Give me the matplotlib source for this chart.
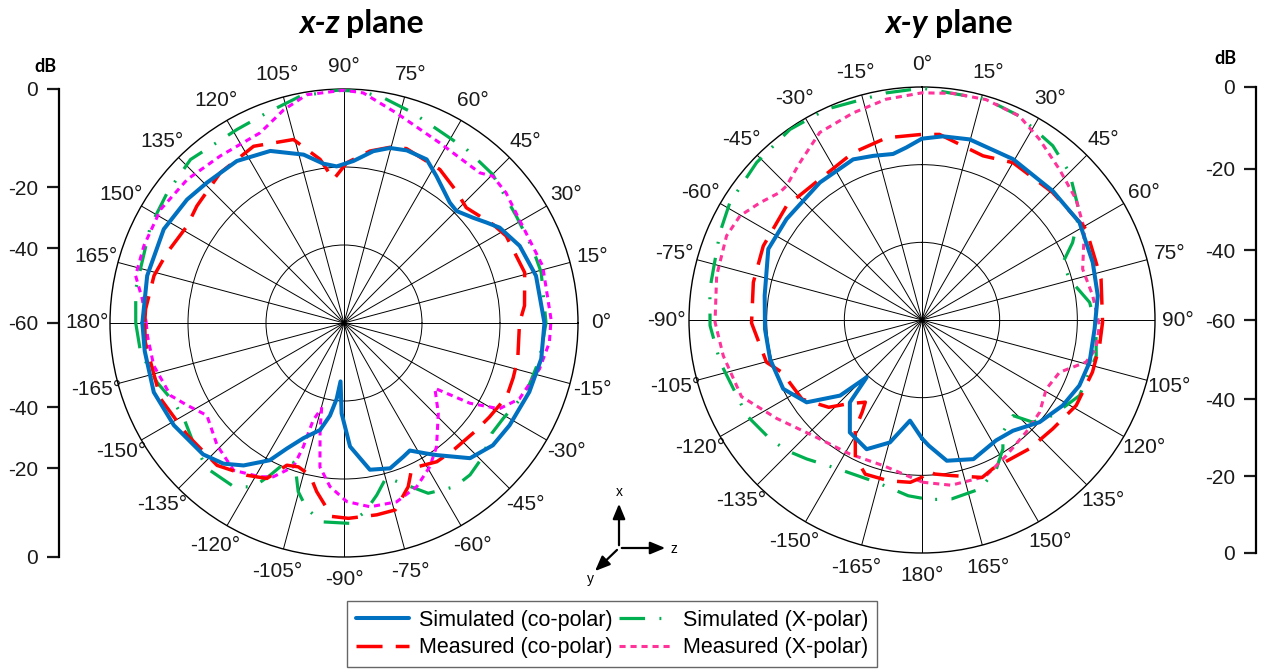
import numpy as np
import matplotlib
matplotlib.use("Agg")
import matplotlib.pyplot as plt

# ---- x-z plane (deg, ccw from 0 at right) ----
xz_sim_co_ang = [-180, -172, -160, -149, -137, -130.6, -125.2, -118.4, -114.5, -109.4, -102.6, -98.6, -95.5, -93.4,
                 -91.5, -87.2, -80, -72.4, -66, -62.7, -57.7, -54.9, -47, -39.4, -31.7, -20.4, -10.3, 0, 13.8, 23.7,
                 31.5, 35.2, 39.2, 44.9, 48.7, 57.8, 63.2, 70, 75.3, 80.3, 86.7, 92.7, 97.4, 103.5, 113.2, 123.5,
                 134.3, 141.8, 152.5, 166.5, 180]
xz_sim_co_db = [-8.3, -8.4, -8.1, -9.1, -10.6, -12.5, -15.3, -20.0, -24.6, -28.7, -31.9, -36.0, -40.5, -45.0,
                -36.8, -28.3, -21.8, -20.9, -22.5, -23.2, -20.4, -18.6, -12.6, -10.6, -10.1, -9.3, -8.6, -8.6, -9.3, -10.8,
                -13.2, -15.3, -17.3, -19.3, -18.9, -15.5, -13.0, -12.9, -13.6, -15.3, -18.4, -19.8, -18.8, -15.6, -12.0, -10.2,
                -9.7, -8.8, -7.9, -8.1, -8.3]

xz_meas_co_ang = [-180, -174.5, -157.6, -144.4, -131.7, -122.5, -116.4, -111.9, -107.6, -102.6, -99.2, -93.6, -88.7,
                  -80.3, -74.7, -68.6, -65, -56.2, -49.3, -39.7, -32.9, -24.4, -18, -11.7, 0, 5.5, 15.6, 28.2, 33.5,
                  43.3, 50, 58, 70.3, 75, 81.4, 89, 94.2, 98.3, 105.4, 117.1, 129.5, 141.5, 148.3, 158.3, 166, 176, 180]
xz_meas_co_db = [-8.9, -8.8, -9.1, -10.6, -11.1, -13.7, -15.5, -20.7, -21.3, -20.0, -16.2, -10.3, -9.9,
                 -10.1, -10.3, -14.9, -18.9, -17.2, -17.0, -16.4, -15.6, -14.2, -14.4, -14.5, -15.0, -13.5, -11.9, -12.8, -14.2,
                 -16.9, -15.5, -13.6, -12.5, -13.3, -15.4, -18.9, -23.1, -17.6, -11.2, -9.1, -10.1, -11.8, -12.7, -11.2, -9.8, -9.0, -8.9]

xz_sim_x_ang = [-180, -171.8, -162.4, -155, -149.1, -141, -133.2, -123.9, -118.9, -115.9, -112.1, -109.3, -105.2,
                -101.4, -96.4, -88.3, -83.6, -79.2, -74.5, -72.6, -63.7, -55.9, -50.3, -44.5, -36.8, -30.9, -20.8,
                -10.4, 0, 14.4, 21.3, 31.9, 45, 54.8, 71.8, 80, 86, 91.8, 101, 110.2, 118.9, 133.2, 143.6, 153.4, 170.8, 180]
xz_sim_x_db = [-6.6, -7.3, -9.7, -11.9, -12.2, -10.5, -8.8, -9.4, -12.0, -16.6, -22.1, -21.9, -15.2,
               -11.5, -8.7, -8.6, -11.3, -15.1, -19.1, -17.8, -11.3, -9.3, -9.4, -10.5, -12.7, -12.4, -10.0,
               -9.0, -8.2, -7.8, -8.0, -8.0, -6.1, -5.5, -3.3, -1.4, -0.4, -0.3, -0.8, -2.6, -3.3, -2.5, -3.7, -4.5, -5.9, -6.6]

xz_meas_x_ang = [-180, -176.3, -167.4, -157.3, -152.3, -146, -136, -126.8, -118.6, -114.7, -109.4, -108.2, -107.6,
                 -104.7, -102.6, -99.5, -94.9, -89.1, -81.9, -73.6, -66, -59.1, -53.2, -43.8, -35.7, -32.5, -28.9,
                 -23.4, -13.2, -5.4, 1, 16, 30.6, 38.8, 44.6, 47.9, 62, 76, 85.2, 90, 99.3, 105.8, 113.8, 126.5, 137.5,
                 148.2, 158.9, 167.2, 173.2, 180]
xz_meas_x_db = [-9.3, -9.5, -10.0, -11.8, -14.6, -17.6, -14.8, -12.8, -15.1, -16.6, -20.9, -26.6, -33.9,
                -37.4, -31.9, -22.6, -17.9, -14.2, -12.4, -12.2, -14.1, -17.1, -20.4, -26.5, -31.3, -21.7, -14.5,
                -11.0, -8.5, -7.1, -6.9, -7.0, -7.8, -6.7, -6.4, -8.1, -7.7, -4.5, -0.8, -0.3, -0.7, -3.2, -6.7, -6.7, -5.5,
                -4.7, -5.0, -5.2, -7.9, -9.3]

# ---- x-y plane (deg, cw from 0 at top) ----
xy_sim_co_ang = [-180, -173.2, -165.3, -156.8, -147.3, -138.8, -136, -132.7, -125.5, -116.4, -104.4, -93.3, -81.2,
                 -65.2, -53.3, -36.6, -23.2, -16.6, -9.9, -5.2, 0, 6.5, 14.8, 29.5, 45.4, 58.2, 71.4, 82.1, 93, 104.2,
                 112.6, 121.3, 131, 140.6, 148.4, 159.7, 170, 176.9, 180]
xy_sim_co_db = [-29.5, -33.9, -27.4, -23.8, -25.6, -31.8, -39.5, -31.3, -23.5, -20.1, -19.6, -19.5, -19.0,
                -16.4, -16.5, -15.9, -15.0, -15.9, -16.6, -15.4, -13.3, -12.4, -11.9, -12.4, -12.7, -12.3, -13.6, -14.3, -15.5, -15.5,
                -16.1, -17.6, -19.9, -23.1, -23.6, -21.8, -23.2, -27.6, -29.5]

xy_meas_co_ang = [-180, -175.9, -168.3, -159.8, -154.1, -148.5, -147, -145.4, -138.2, -133.1, -123.4, -110.5, -105.2,
                  -91, -77.4, -65, -50, -36, -22.4, -11, 0, 5.4, 20.4, 30, 45.7, 61, 77.1, 90.7, 98.2, 107, 119, 129.8,
                  140, 154.5, 159.1, 169.1, 175.3, 178.1, 180]
xy_meas_co_db = [-19.5, -18.1, -17.7, -17.7, -20.7, -27.1, -31.7, -34.3, -31.0, -27.1, -23.0, -21.5, -18.5,
                 -16.1, -15.5, -14.9, -14.4, -15.2, -13.4, -12.2, -12.2, -12.0, -14.9, -13.2, -13.0, -11.7, -12.7, -13.5, -13.8, -14.1, -14.6, -16.2,
                 -16.8, -17.6, -16.6, -19.2, -20.2, -21.2, -19.5]

xy_sim_x_ang = [-180, -175.5, -164.4, -150.7, -140.3, -134, -128, -118.6, -112.2, -101.8, -91.5, -81.7, -66.6, -58.5,
                -46.4, -34.7, -24.4, -8.9, 0, 2.7, 16.2, 25.5, 36.9, 45, 55.7, 62.8, 67.8, 74.5, 84, 91.9, 101.6, 115.6,
                126.1, 132.7, 136.4, 144.2, 147.9, 153.5, 161.1, 170.6, 177.7, 180]
xy_sim_x_db = [-14.1, -14.6, -16.6, -16.0, -13.5, -11.6, -10.3, -8.6, -8.5, -6.9, -5.4, -4.8, -3.3, -2.0,
               -1.2, -0.3, -0.4, -0.8, -0.3, -0.7, -0.8, -1.8, -3.9, -6.3, -10.9, -16.4, -20.8, -20.6, -16.6, -15.2, -14.2, -15.0,
               -18.3, -21.2, -26.0, -24.4, -20.8, -17.1, -14.0, -13.3, -13.7, -14.1]

xy_meas_x_ang = [-180, -165.1, -151.7, -136.8, -124.1, -113, -100.2, -90.6, -77.8, -66.7, -60.2, -54.1, -48.1, -45.3,
                 -37.8, -28.6, -18.4, -9.2, 0, 7.8, 16.2, 25.5, 33, 42.4, 51.9, 60.8, 72.4, 81.9, 91.8, 99.4, 104.4,
                 110.8, 119, 128.1, 137.1, 148.1, 158, 170, 179.5, 180]
xy_meas_x_db = [-18.3, -21.2, -20.8, -19.1, -14.8, -9.5, -8.0, -6.7, -5.9, -5.2, -6.0, -8.5, -10.8, -10.9,
                -8.7, -5.0, -3.8, -2.4, -1.5, -1.1, -0.9, -1.8, -4.5, -7.5, -9.6, -12.1, -16.6, -15.6, -14.3, -14.6, -16.4,
                -22.1, -23.4, -21.5, -20.6, -18.9, -16.5, -16.8, -18.2, -18.3]

theta_ticks = np.arange(0, 360, 15)
theta_labels = [f"{a}°" if a <= 180 else f"{a - 360}°" for a in theta_ticks]
side_labels = ["0", "-20", "-40", "-60", "-40", "-20", "0"]
left_tick_pos = [1, 0.58, 0.32, 0, -0.36, -0.62, -1]
right_tick_pos = [1, 0.65, 0.30, 0, -0.34, -0.67, -1]
legend_labels = ["Simulated (co-polar)", "Measured (co-polar)", "Simulated (X-polar)", "Measured (X-polar)"]

BLUE, RED, GREEN, MAG, PINK = "#0070C0", "#FF0000", "#00B050", "#FF00FF", "#FF3399"
plt.rcParams["font.family"] = "Liberation Sans"
plt.rcParams["font.size"] = 15

W, H = 1268, 670
fig = plt.figure(figsize=(W / 100, H / 100), dpi=100)


def px_box(cx, cy, r):
    return [(cx - r) / W, (H - cy - r) / H, 2 * r / W, 2 * r / H]


def style_polar(ax):
    ax.set_ylim(-60, 0)
    ax.set_rgrids([-40, -20], labels=["", ""])
    ax.set_thetagrids(theta_ticks, theta_labels)
    ax.grid(True, color="black", lw=0.7)
    ax.spines["polar"].set_linewidth(1.0)
    ax.tick_params(axis="x", pad=6, labelsize=15, colors="#1a1a1a")
    ax.tick_params(axis="y", length=0)


def draw(ax, ang, db, **kw):
    return ax.plot(np.deg2rad(ang), db, **kw)[0]


sim_co = dict(color=BLUE, lw=2.9, solid_capstyle="round", zorder=6)
meas_co = dict(color=RED, lw=2.5, dashes=(7.5, 3.8), zorder=5)
sim_x = dict(color=GREEN, lw=2.3, dashes=(8, 4.5, 0.6, 4.5), zorder=4)

ax1 = fig.add_axes(px_box(344, 323, 234), projection="polar")
style_polar(ax1)
draw(ax1, xz_sim_x_ang, xz_sim_x_db, **sim_x)
draw(ax1, xz_meas_x_ang, xz_meas_x_db, color=MAG, lw=2.2, dashes=(2.0, 1.6), zorder=4)
draw(ax1, xz_meas_co_ang, xz_meas_co_db, **meas_co)
draw(ax1, xz_sim_co_ang, xz_sim_co_db, **sim_co)

ax2 = fig.add_axes(px_box(922, 320, 233), projection="polar")
ax2.set_theta_zero_location("N")
ax2.set_theta_direction(-1)
style_polar(ax2)
h3 = draw(ax2, xy_sim_x_ang, xy_sim_x_db, **sim_x)
h4 = draw(ax2, xy_meas_x_ang, xy_meas_x_db, color=PINK, lw=2.2, dashes=(2.0, 1.6), zorder=4)
h2 = draw(ax2, xy_meas_co_ang, xy_meas_co_db, **meas_co)
h1 = draw(ax2, xy_sim_co_ang, xy_sim_co_db, **sim_co)

# side dB scales
for x_line, cy, r, pos in [(59, 323, 234, left_tick_pos), (1256, 320, 233, right_tick_pos)]:
    sa = fig.add_axes([x_line / W, (H - cy - r) / H, 0.0005, 2 * r / H])
    sa.set_ylim(-1, 1)
    sa.set_yticks(pos, side_labels)
    sa.set_xticks([])
    for s in ["top", "right", "bottom"]:
        sa.spines[s].set_visible(False)
    sa.spines["left"].set_linewidth(1.6)
    sa.tick_params(axis="y", length=9, width=1.6, pad=6, labelsize=15, colors="#1a1a1a")
    sa.patch.set_visible(False)

# overlay in pixel coords for titles and the xyz sketch
ov = fig.add_axes([0, 0, 1, 1])
ov.set_xlim(0, W)
ov.set_ylim(H, 0)
ov.axis("off")
ov.patch.set_visible(False)

tkw = dict(fontsize=23, fontweight="bold", family="Lato", va="baseline")
ov.text(340, 33, "x-z", ha="right", fontstyle="italic", **tkw)
ov.text(346, 33, "plane", ha="left", **tkw)
ov.text(928, 33, "x-y", ha="right", fontstyle="italic", **tkw)
ov.text(935, 33, "plane", ha="left", **tkw)
ov.text(45, 67, "dB", ha="center", va="center", fontsize=13, fontweight="bold", family="Lato")
ov.text(1225, 58, "dB", ha="center", va="center", fontsize=13, fontweight="bold", family="Lato")

o = (619, 548)
akw = dict(arrowstyle="-|>,head_length=0.6,head_width=0.25", color="black", lw=1.6)
for tip, lab, lpos in [((619, 501), "x", (619, 492)), ((668, 548), "z", (674, 549)), ((593, 573), "y", (590, 579))]:
    ov.annotate("", xy=tip, xytext=o, arrowprops=akw)
    ov.text(*lpos, lab, ha="center", va="center", fontsize=10)

leg = fig.legend([h1, h2, h3, h4], legend_labels,
                 ncol=2, loc="upper left", bbox_to_anchor=(347 / W, 1 - 601 / H), borderaxespad=0,
                 fontsize=15.5, handlelength=2.5, handletextpad=0.45, columnspacing=0.3, labelspacing=0.3,
                 borderpad=0.4, fancybox=False, edgecolor="#666666", framealpha=1)
leg.get_frame().set_linewidth(1.0)

fig.savefig("out.png", dpi=100)
